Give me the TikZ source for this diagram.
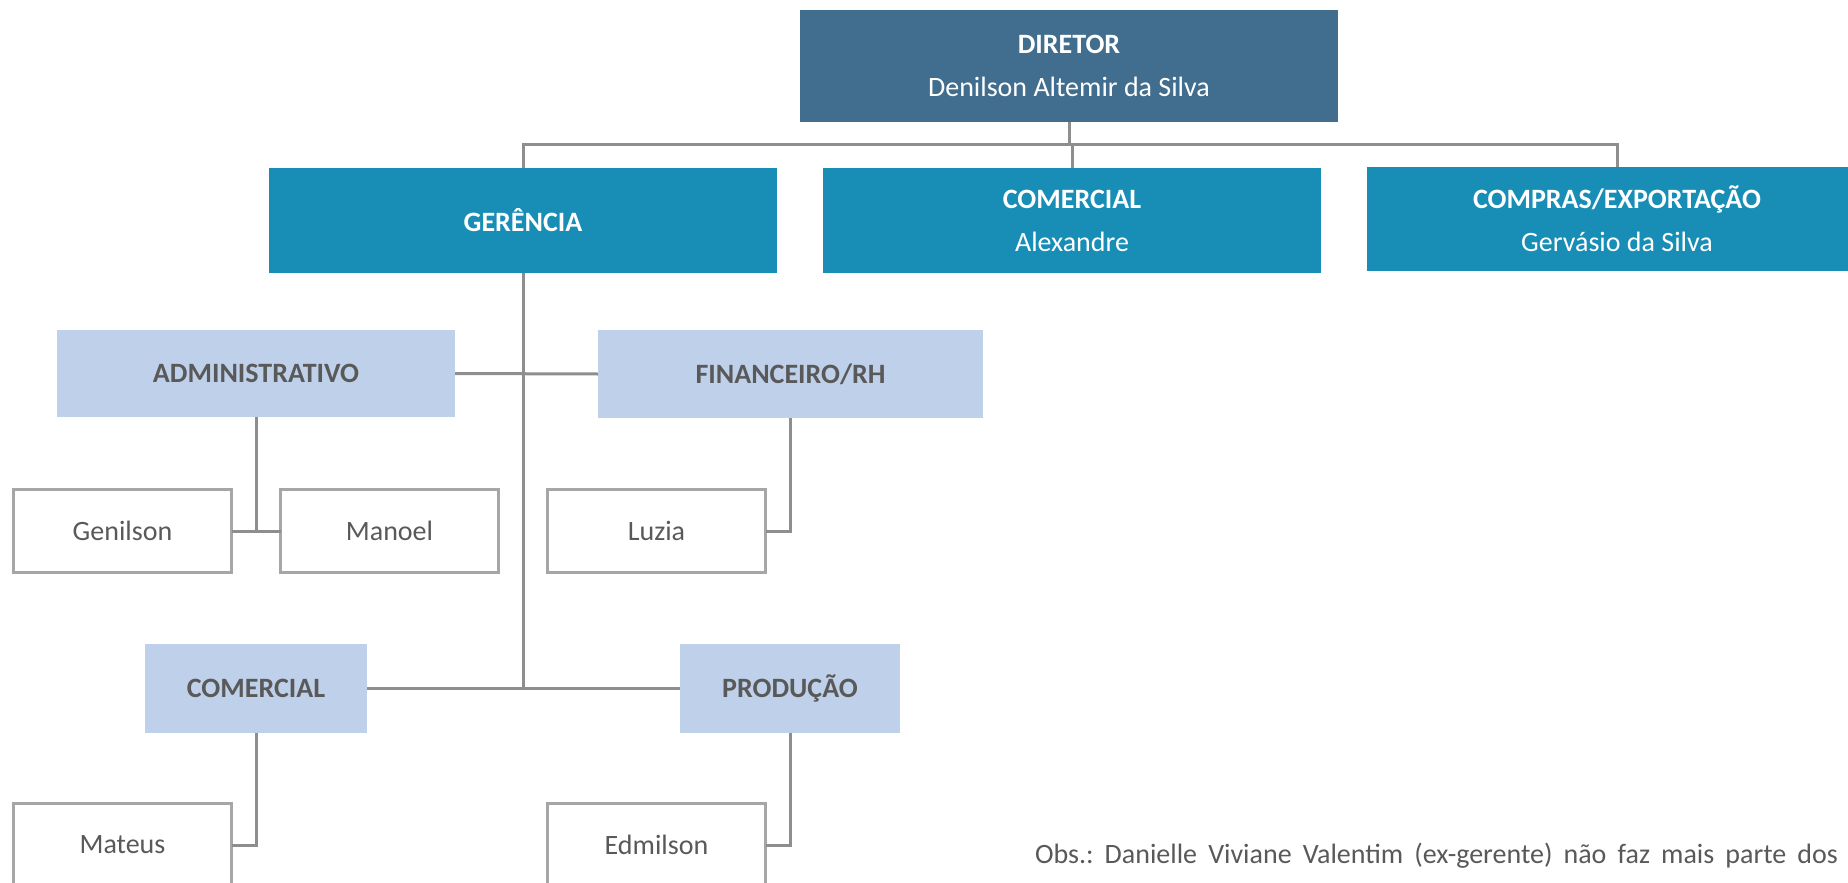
\documentclass[tikz,border=0pt]{standalone}
\usepackage{fontspec}
\setmainfont{Carlito}
\usetikzlibrary{positioning}

\definecolor{dirblue}{HTML}{416E8E}
\definecolor{areablue}{HTML}{188EB7}
\definecolor{deptblue}{HTML}{BFD1EA}
\definecolor{txtgray}{HTML}{595959}
\definecolor{linegray}{HTML}{8E8E8E}
\definecolor{boxgray}{HTML}{A6A6A6}

\begin{document}
\frenchspacing
\begin{tikzpicture}[x=1pt, y=-1pt,
  every node/.style={inner sep=0pt, outer sep=0pt, align=center,
    font=\fontsize{28}{43}\selectfont},
  dirbox/.style={fill=dirblue, text=white, minimum width=538pt, minimum height=112pt},
  areabox/.style={fill=areablue, text=white, minimum height=105pt},
  deptbox/.style={fill=deptblue, text=txtgray, font=\fontsize{28}{43}\selectfont\bfseries},
  personbox/.style={draw=boxgray, line width=3pt, fill=white, text=txtgray,
    minimum width=218pt, minimum height=83pt},
  link/.style={draw=linegray, line width=3pt}]
  \useasboundingbox (0,0) rectangle (1848,883);

  % top levels
  \node[dirbox] (dir) at (1069,66) {\textbf{DIRETOR}\\Denilson Altemir da Silva};
  \node[areabox, minimum width=508pt] (ger) at (523,220.5) {\textbf{GERÊNCIA}};
  \node[areabox, minimum width=498pt] (com) at (1072,220.5) {\textbf{COMERCIAL}\\Alexandre};
  \node[areabox, minimum width=500pt, minimum height=104pt] (cmp) at (1617,219)
    {\textbf{COMPRAS/EXPORTAÇÃO}\\Gervásio da Silva};
  \coordinate (bus) at (1069,144);

  % departments
  \node[deptbox, minimum width=398pt, minimum height=87pt] (adm) at (256,373.5) {ADMINISTRATIVO};
  \node[deptbox, minimum width=385pt, minimum height=88pt] (fin) at (790.5,374) {FINANCEIRO/RH};
  \node[deptbox, minimum width=222pt, minimum height=89pt] (com2) at (256,688.5) {COMERCIAL};
  \node[deptbox, minimum width=220pt, minimum height=89pt] (pro) at (790,688.5) {PRODUÇÃO};

  % people
  \node[personbox] (gen) at (122.5,531) {Genilson};
  \node[personbox] (man) at (389.5,531) {Manoel};
  \node[personbox] (luz) at (656.5,531) {Luzia};
  \node[personbox] (mat) at (122.5,845) {Mateus};
  \node[personbox] (edm) at (656.5,845) {Edmilson};

  % connectors
  \path[link] (dir.south) -- (bus);
  \path[link] (ger.north) |- (bus) -| (cmp.north);
  \path[link] (com.north) |- (bus);
  \path[link] (ger.south) -- (ger.south |- pro.west);
  \path[link] (adm.east) -- (fin.west);
  \path[link] (com2.east) -- (pro.west);
  \path[link] (adm.south) -- (adm.south |- gen.east);
  \path[link] (gen.east) -- (man.west);
  \path[link] (fin.south) |- (luz.east);
  \path[link] (com2.south) |- (mat.east);
  \path[link] (pro.south) |- (edm.east);

  \node[anchor=base west, text=txtgray] (obs) at (1035,863)
    {\makebox[803pt][s]{Obs.: Danielle Viviane Valentim (ex-gerente) não faz mais parte dos}};
\end{tikzpicture}
\end{document}
